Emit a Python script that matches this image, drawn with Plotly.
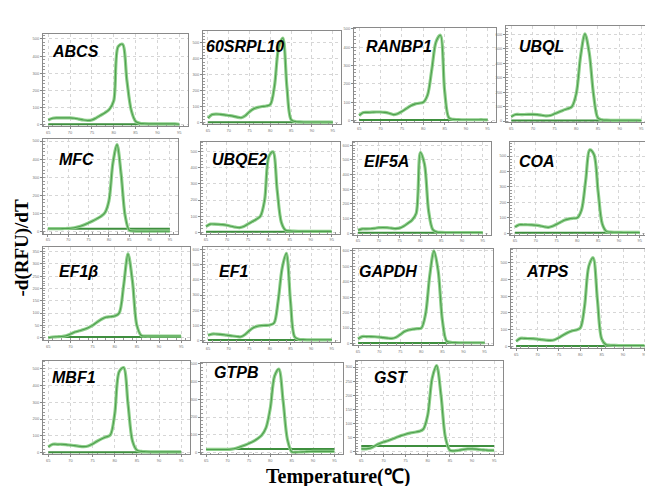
import plotly.graph_objects as go

W, H = 653, 486

temps = list(range(65, 96))

genes = ["ABCS", "60SRPL10", "RANBP1", "UBQL",
         "MFC", "UBQE2", "EIF5A", "COA",
         "EF1β", "EF1", "GAPDH", "ATPS",
         "MBF1", "GTPB", "GST"]

abcs     = [28,38,40,40,40,40,38,33,28,25,28,40,55,70,90,140,455,470,260,85,20,8,6,5,5,5,5,5,5,5,3]
srpl10   = [30,52,55,53,50,46,42,36,32,45,70,88,97,102,105,115,230,470,530,220,20,8,6,5,5,5,5,5,5,5,4]
ranbp1   = [28,44,45,46,47,47,45,40,33,38,50,65,80,90,95,100,140,280,430,465,160,15,7,6,5,5,5,5,5,5,4]
ubql     = [30,45,45,45,46,46,44,40,35,38,50,62,75,85,100,190,450,605,470,180,20,8,6,5,5,5,5,5,5,5,4]
mfc      = [18,18,18,18,19,20,22,26,32,40,50,60,72,85,105,170,380,480,320,90,10,5,4,4,4,4,4,4,4,4,4]
ubqe2    = [35,50,50,49,47,43,37,31,28,35,50,65,80,100,200,470,500,260,60,12,8,6,5,5,5,5,5,5,5,5,5]
eif5a    = [20,30,30,31,34,38,39,38,35,32,35,48,68,90,135,550,470,150,25,8,6,5,5,5,5,5,5,5,5,5,4]
coa      = [40,55,55,55,54,52,48,42,38,45,58,72,85,93,97,100,150,340,540,510,270,60,12,7,6,6,5,5,5,5,5]
ef1b     = [0,3,4,5,8,15,23,28,33,40,50,63,75,83,85,88,100,210,340,230,50,9,7,7,7,7,7,7,7,7,7]
ef1      = [35,43,43,41,38,34,30,27,25,40,65,85,95,99,100,103,115,260,480,575,260,25,8,6,5,5,5,5,5,5,5]
gapdh    = [30,45,45,45,44,42,38,35,33,40,58,78,88,93,96,100,190,440,600,470,150,15,8,6,5,5,5,5,5,5,5]
atps     = [30,48,48,47,46,44,40,37,36,40,52,68,82,92,98,110,240,480,530,280,45,10,7,6,5,5,5,5,5,5,5]
mbf1     = [35,50,50,50,48,45,42,38,36,40,52,68,82,93,105,230,480,505,290,70,15,8,6,5,5,5,5,5,5,5,5]
gtpb     = [18,18,18,18,18,18,20,25,33,42,52,63,78,98,140,250,430,470,290,75,5,3,4,5,6,7,7,7,7,7,7]
gst      = [10,10,12,20,28,34,39,45,51,57,62,66,69,72,80,130,260,305,200,50,5,3,5,8,10,10,9,7,6,5,5]

curves = [abcs, srpl10, ranbp1, ubql, mfc, ubqe2, eif5a, coa,
          ef1b, ef1, gapdh, atps, mbf1, gtpb, gst]

# no-template-control baseline level for each panel
baseline = [3, 3, 3, 3, 18, 3, 3, 3, 3, 3, 3, 3, 3, 20, 20]

y_max = [530, 575, 505, 660, 510, 560, 620, 590, 370, 620, 615, 585, 545, 505, 322]
y_step = [100, 100, 100, 100, 100, 100, 100, 100, 50, 100, 100, 100, 100, 100, 50]
x_ticks = [65, 70, 75, 80, 85, 90, 95]

# panel boxes in pixels (x0, x1, y0, y1)
boxes = [(35,180,24,117), (195,333,21,115), (346,488,18,113), (498,642,16,113),
         (35,170,130,225), (193,332,133,225), (345,483,133,226), (502,640,133,226),
         (35,182,238,332), (195,332,238,334), (345,485,240,337), (503,645,240,340),
         (35,182,353,447), (193,335,355,447), (348,495,353,447)]
# gene label anchor (left x, centre y) in pixels
label_pos = [(42,42), (196,37), (356,37), (509,37),
             (49,150), (202,150), (354,152), (509,152),
             (49,263), (209,263), (349,263), (516,263),
             (42,370), (204,365), (364,370)]

fig = go.Figure()
layout = dict(width=W, height=H, margin=dict(l=0, r=0, t=0, b=0),
              paper_bgcolor="white", plot_bgcolor="white", showlegend=False)
annotations = []

for i, g in enumerate(genes):
    n = i + 1
    xa = "x" if n == 1 else f"x{n}"
    ya = "y" if n == 1 else f"y{n}"
    x0, x1, y0, y1 = boxes[i]
    # baseline (NTC)
    fig.add_trace(go.Scatter(x=[temps[0], temps[-1]], y=[baseline[i], baseline[i]],
                             mode="lines", line=dict(color="#3f8f3f", width=2),
                             xaxis=xa, yaxis=ya, hoverinfo="skip"))
    # replicate curves (wide light + thin darker)
    fig.add_trace(go.Scatter(x=temps, y=curves[i], mode="lines",
                             line=dict(color="#8fd08c", width=3.2, shape="spline", smoothing=0.9),
                             xaxis=xa, yaxis=ya, hoverinfo="skip"))
    fig.add_trace(go.Scatter(x=temps, y=curves[i], mode="lines",
                             line=dict(color="#3f933f", width=1.1, shape="spline", smoothing=0.9),
                             opacity=0.8, xaxis=xa, yaxis=ya, hoverinfo="skip"))
    axcommon = dict(showline=True, mirror=True, linecolor="#8a8a8a", linewidth=1,
                    showgrid=True, gridcolor="#d6d6d6", griddash="dot", gridwidth=1,
                    zeroline=False, ticks="outside", ticklen=2, tickcolor="#888",
                    tickfont=dict(size=4, color="#777", family="Liberation Sans"),
                    minor=dict(ticks="inside", ticklen=1.5, tickcolor="#999", nticks=6, showgrid=False))
    layout["xaxis" if n == 1 else f"xaxis{n}"] = dict(
        domain=[x0 / W, x1 / W], anchor=ya, range=[63.8, 97], tickvals=x_ticks, **axcommon)
    layout["yaxis" if n == 1 else f"yaxis{n}"] = dict(
        domain=[1 - y1 / H, 1 - y0 / H], anchor=xa, range=[-9, y_max[i]],
        dtick=y_step[i], tick0=0, **axcommon)
    lx, ly = label_pos[i]
    annotations.append(dict(text=g, x=lx / W, y=1 - ly / H, xref="paper", yref="paper",
                            xanchor="left", yanchor="middle", showarrow=False,
                            font=dict(family="Liberation Sans, Arial", size=16, color="black",
                                      weight="bold", style="italic")))

annotations.append(dict(text="-d(RFU)/dT", x=14 / W, y=1 - 240 / H, xref="paper", yref="paper",
                        textangle=-90, showarrow=False, xanchor="center", yanchor="middle",
                        font=dict(family="Liberation Serif, Times New Roman", size=19,
                                  color="black", weight="bold")))
annotations.append(dict(text="Temperature(℃)", x=330 / W, y=1 - 469 / H, xref="paper", yref="paper",
                        showarrow=False, xanchor="center", yanchor="middle",
                        font=dict(family="Liberation Serif, Times New Roman", size=20,
                                  color="black", weight="bold")))
layout["annotations"] = annotations
fig.update_layout(**layout)
fig.write_html("out.html")
